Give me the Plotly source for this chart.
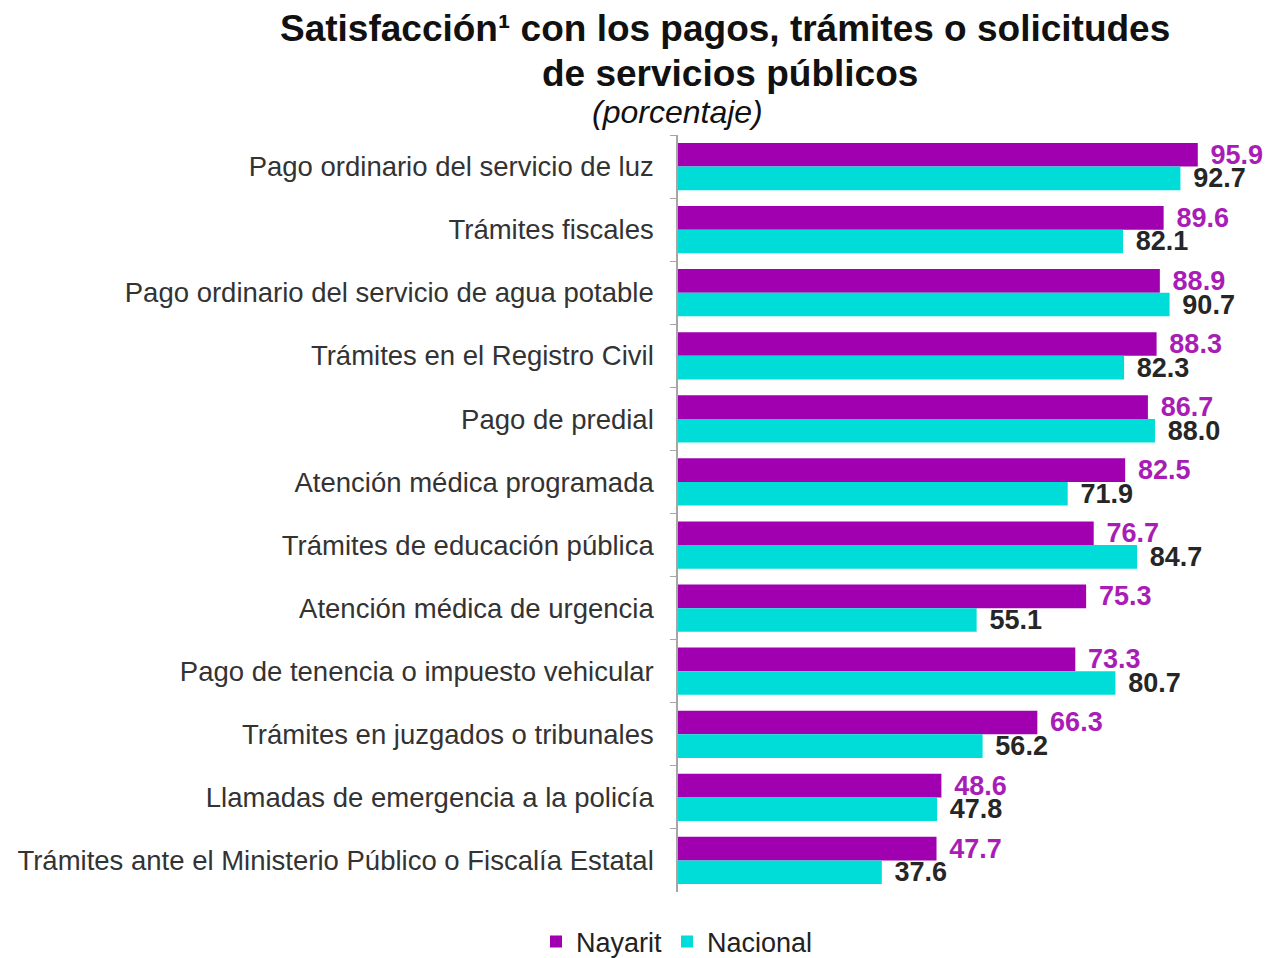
import plotly.graph_objects as go

categories = [
    "Pago ordinario del servicio de luz",
    "Trámites fiscales",
    "Pago ordinario del servicio de agua potable",
    "Trámites en el Registro Civil",
    "Pago de predial",
    "Atención médica programada",
    "Trámites de educación pública",
    "Atención médica de urgencia",
    "Pago de tenencia o impuesto vehicular",
    "Trámites en juzgados o tribunales",
    "Llamadas de emergencia a la policía",
    "Trámites ante el Ministerio Público o Fiscalía Estatal",
]
nayarit = [95.9, 89.6, 88.9, 88.3, 86.7, 82.5, 76.7, 75.3, 73.3, 66.3, 48.6, 47.7]
nacional = [92.7, 82.1, 90.7, 82.3, 88.0, 71.9, 84.7, 55.1, 80.7, 56.2, 47.8, 37.6]

PURPLE = "#A000B0"
CYAN = "#00DCD8"
FONT = "Liberation Sans, Arial, sans-serif"

L, R, T, B = 678, 48, 135, 66
W, H = 1268, 958
PW, PH = W - L - R, H - T - B


def px_x(x):
    return (x - L) / PW


def px_y(y):
    return (H - B - y) / PH


fig = go.Figure()
fig.add_trace(go.Bar(
    y=categories, x=nayarit, orientation="h", name="Nayarit",
    marker=dict(color=PURPLE, line=dict(width=0)),
    text=[f"{v:.1f}" for v in nayarit], texttemplate="\u00a0\u200a%{text}",
    textposition="outside", constraintext="none", cliponaxis=False,
    textfont=dict(family=FONT, size=27, color="#A81DB5", weight="bold"),
))
fig.add_trace(go.Bar(
    y=categories, x=nacional, orientation="h", name="Nacional",
    marker=dict(color=CYAN, line=dict(width=0)),
    text=[f"{v:.1f}" for v in nacional], texttemplate="\u00a0\u200a%{text}",
    textposition="outside", constraintext="none", cliponaxis=False,
    textfont=dict(family=FONT, size=27, color="#262626", weight="bold"),
))

fig.update_layout(
    width=W, height=H,
    paper_bgcolor="white", plot_bgcolor="white",
    barmode="group", bargap=0.25, bargroupgap=0,
    margin=dict(l=L, r=R, t=T, b=B, autoexpand=False),
    font=dict(family=FONT, color="#333333"),
    showlegend=True,
    legend=dict(orientation="h", x=px_x(677), xanchor="center", y=px_y(942), yanchor="middle",
                font=dict(family=FONT, size=27, color="#222222"), traceorder="normal",
                itemwidth=30),
    annotations=[
        dict(text="<b>Satisfacción¹ con los pagos, trámites o solicitudes</b>",
             xref="paper", yref="paper", x=px_x(724.5), y=px_y(29),
             xanchor="center", yanchor="middle", showarrow=False,
             font=dict(family=FONT, size=37, color="#111111")),
        dict(text="<b>de servicios públicos</b>",
             xref="paper", yref="paper", x=px_x(729.5), y=px_y(73),
             xanchor="center", yanchor="middle", showarrow=False,
             font=dict(family=FONT, size=37, color="#111111")),
        dict(text="<i>(porcentaje)</i>",
             xref="paper", yref="paper", x=px_x(677.5), y=px_y(112),
             xanchor="center", yanchor="middle", showarrow=False,
             font=dict(family=FONT, size=32, color="#111111")),
    ],
)
fig.update_xaxes(range=[0, 100], visible=False, showgrid=False, zeroline=False)
fig.update_yaxes(
    autorange="reversed", type="category", tickson="boundaries",
    ticks="outside", ticklen=6, tickcolor="#A6A6A6", tickwidth=1,
    showline=True, linecolor="#A6A6A6", linewidth=1.5,
    ticklabelstandoff=17, automargin=False,
    tickfont=dict(family=FONT, size=27.5, color="#333333"),
    showgrid=False,
)

fig.write_html(
    "out.html",
    config={"displayModeBar": False},
    post_script="document.body.style.margin='0';document.body.style.overflow='hidden';",
)
